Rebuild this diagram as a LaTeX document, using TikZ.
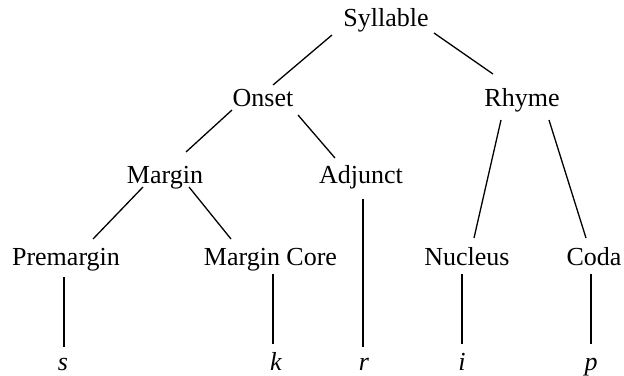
\documentclass[tikz,border=0pt]{standalone}
\usepackage{fontspec}
\setmainfont{Liberation Serif}
\begin{document}
\begin{tikzpicture}[x=1pt,y=-1pt,
  lbl/.style={anchor=base,inner sep=0pt,font=\fontsize{26}{30}\selectfont},
  leaf/.style={lbl,font=\fontsize{26}{30}\selectfont\itshape},
  edge/.style={line width=1.3pt,black}]
\useasboundingbox (0,0) rectangle (624,375);
\node[lbl] (S) at (386,26) {Syllable};
\node[lbl] (O) at (263,106) {Onset};
\node[lbl] (R) at (522,106) {Rhyme};
\node[lbl] (M) at (165,183) {Margin};
\node[lbl] (A) at (361,183) {Adjunct};
\node[lbl] (P) at (66,265) {Premargin};
\node[lbl] (MC) at (270.5,265) {Margin Core};
\node[lbl] (N) at (467,265) {Nucleus};
\node[lbl] (C) at (594,265) {Coda};
\node[leaf] (ls) at (63,370) {s};
\node[leaf] (lk) at (276,370) {k};
\node[leaf] (lr) at (364,370) {r};
\node[leaf] (li) at (462,370) {i};
\node[leaf] (lp) at (591,370) {p};
\draw[edge] ([shift={(-54,9)}]S.base) -- ([shift={(10,-21)}]O.base);
\draw[edge] ([shift={(48,7)}]S.base) -- ([shift={(-29,-32)}]R.base);
\draw[edge] ([shift={(-31,4)}]O.base) -- ([shift={(21,-31)}]M.base);
\draw[edge] ([shift={(35,9)}]O.base) -- ([shift={(-26,-25)}]A.base);
\draw[edge] ([shift={(-21,14)}]R.base) -- ([shift={(7,-27)}]N.base);
\draw[edge] ([shift={(27,14)}]R.base) -- ([shift={(-8,-27)}]C.base);
\draw[edge] ([shift={(-22,4)}]M.base) -- ([shift={(27,-26)}]P.base);
\draw[edge] ([shift={(24,4)}]M.base) -- ([shift={(-39.5,-26)}]MC.base);
\draw[edge] ([shift={(2,16)}]A.base) -- ([shift={(-1,-23)}]lr.base);
\draw[edge] ([shift={(-2,12)}]P.base) -- ([shift={(1,-23)}]ls.base);
\draw[edge] ([shift={(2.5,9)}]MC.base) -- ([shift={(-3,-26)}]lk.base);
\draw[edge] ([shift={(-5,9)}]N.base) -- ([shift={(0,-26)}]li.base);
\draw[edge] ([shift={(-3,9)}]C.base) -- ([shift={(0,-26)}]lp.base);
\end{tikzpicture}
\end{document}
